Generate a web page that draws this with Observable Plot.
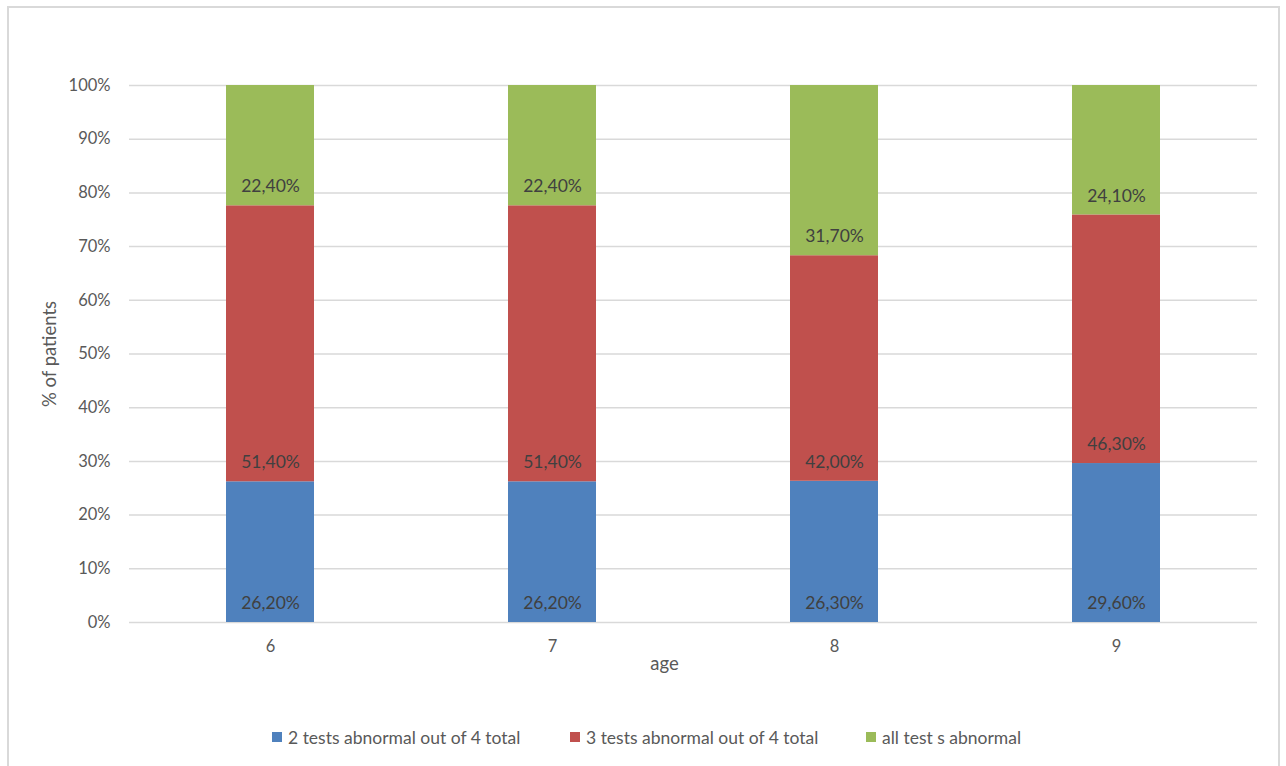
<!DOCTYPE html>
<html>
<head>
<meta charset="utf-8">
<script src="https://cdn.jsdelivr.net/npm/d3@7"></script>
<script src="https://cdn.jsdelivr.net/npm/@observablehq/plot@0.6"></script>
<style>
  html, body { margin: 0; padding: 0; background: #fff; }
  body { width: 1286px; height: 766px; position: relative; overflow: hidden; font-family: Lato, "Open Sans", sans-serif; }
  #frame { position: absolute; left: 7px; top: 6px; width: 1273px; height: 780px; border: 2px solid #d9d9d9; box-sizing: border-box; }
  #chart { position: absolute; left: 0; top: 0; }
  #legend { position: absolute; left: 0; width: 1286px; top: 726px; height: 22px; font-size: 17.5px; color: #595959; }
  .item { position: absolute; top: 0; display: flex; align-items: center; height: 22px; white-space: nowrap; }
  .sw { width: 10px; height: 10px; margin-right: 6px; }
</style>
</head>
<body>
<div id="frame"></div>
<div id="chart"></div>
<div id="legend"></div>
<script>
const ages = ["6", "7", "8", "9"];
const seriesNames = ["2 tests abnormal out of 4 total", "3 tests abnormal out of 4 total", "all test s abnormal"];
const seriesColors = ["#4F81BD", "#C0504D", "#9BBB59"];
const twoAbnormal = [26.2, 26.2, 26.3, 29.6];
const threeAbnormal = [51.4, 51.4, 42.0, 46.3];
const allAbnormal = [22.4, 22.4, 31.7, 24.1];
const yTicks = [0, 10, 20, 30, 40, 50, 60, 70, 80, 90, 100];
const xTitle = "age";
const yTitle = "% of patients";

const seriesValues = [twoAbnormal, threeAbnormal, allAbnormal];
const data = [];
seriesNames.forEach((s, si) => {
  ages.forEach((a, ai) => {
    data.push({age: a, series: s, order: si, value: seriesValues[si][ai]});
  });
});

const fmt = v => v.toFixed(2).replace(".", ",") + "%";

const plot = Plot.plot({
  width: 1286,
  height: 700,
  marginLeft: 129,
  marginRight: 29,
  marginTop: 85,
  marginBottom: 78,
  style: {fontFamily: "Lato, 'Open Sans', sans-serif", fontSize: "16px", color: "#595959", background: "transparent"},
  x: {domain: ages, paddingInner: 0.688, paddingOuter: 0.344, label: null},
  y: {domain: [0, 100], label: null},
  color: {domain: seriesNames, range: seriesColors},
  marks: [
    Plot.gridY(yTicks, {stroke: "#d9d9d9", strokeOpacity: 1, strokeWidth: 1.5}),
    Plot.axisY(yTicks, {tickSize: 0, tickPadding: 19, tickFormat: d => d + "%", fontSize: 16.5, fill: "#595959", label: null}),
    Plot.axisX({tickSize: 0, tickPadding: 18, fontSize: 16.5, fill: "#595959", label: null}),
    Plot.text([yTitle], {text: d => d, frameAnchor: "left", rotate: -90, dx: -79, textAnchor: "middle", lineAnchor: "middle", fontSize: 18.5, fill: "#595959"}),
    Plot.text([xTitle], {text: d => d, frameAnchor: "bottom", dx: -29, dy: 42, textAnchor: "middle", lineAnchor: "middle", fontSize: 18.5, fill: "#595959"}),
    Plot.barY(data, Plot.stackY({x: "age", y: "value", z: "order", fill: "series", order: "order"})),
    Plot.text(data, Plot.stackY1({x: "age", y: "value", z: "order", order: "order", text: d => fmt(d.value),
      dy: -19, fill: "#404040", fontSize: 17.5}))
  ]
});
document.getElementById("chart").appendChild(plot);

const legendX = [272, 570, 866];
const legend = document.getElementById("legend");
seriesNames.forEach((s, i) => {
  const it = document.createElement("div");
  it.className = "item";
  it.style.left = legendX[i] + "px";
  const sw = document.createElement("div");
  sw.className = "sw";
  sw.style.background = seriesColors[i];
  const tx = document.createElement("span");
  tx.textContent = s;
  it.appendChild(sw);
  it.appendChild(tx);
  legend.appendChild(it);
});
</script>
</body>
</html>
